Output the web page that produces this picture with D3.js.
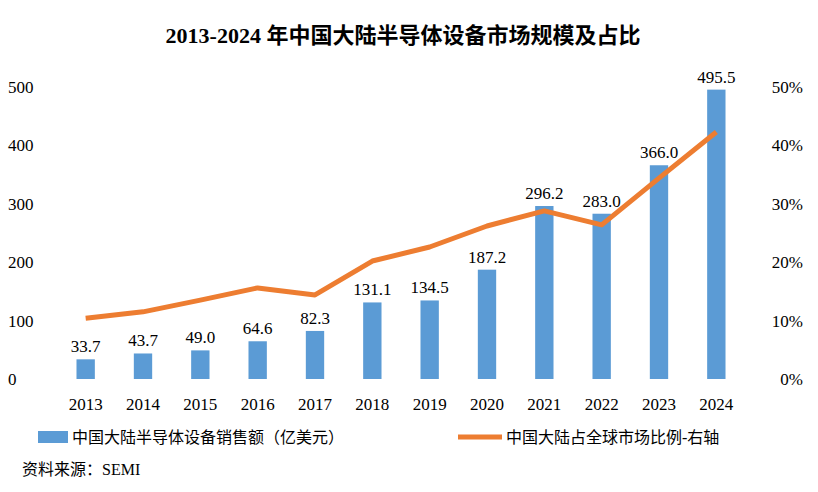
<!DOCTYPE html>
<html>
<head>
<meta charset="utf-8">
<script src="https://cdn.jsdelivr.net/npm/d3@7"></script>
<style>
body{margin:0;background:#fff;}
text{font-family:"Liberation Serif","Times New Roman","Noto Sans CJK SC",serif;fill:#000;}
</style>
</head>
<body>
<script>
var years = ['2013','2014','2015','2016','2017','2018','2019','2020','2021','2022','2023','2024'];
var sales = [33.7, 43.7, 49.0, 64.6, 82.3, 131.1, 134.5, 187.2, 296.2, 283.0, 366.0, 495.5];
var share = [10.4, 11.5, 13.5, 15.6, 14.4, 20.2, 22.6, 26.2, 28.8, 26.4, 34.4, 42.3];
var leftTicks = [0, 100, 200, 300, 400, 500];
var rightTicks = [0, 10, 20, 30, 40, 50];

var W = 818, H = 492;
var svg = d3.select('body').append('svg').attr('width', W).attr('height', H);

var x = d3.scaleBand().domain(years).range([57, 745]).paddingInner(0.68).paddingOuter(0.34);
var yL = d3.scaleLinear().domain([0, 500]).range([379, 87]);
var yR = d3.scaleLinear().domain([0, 50]).range([379, 87]);

svg.append('text').attr('x', 403).attr('y', 43).attr('text-anchor', 'middle')
    .style('font-size', '22px').style('font-weight', 'bold')
    .text('2013-2024 年中国大陆半导体设备市场规模及占比');

svg.selectAll('text.yl').data(leftTicks).enter().append('text')
    .attr('class', 'yl').attr('x', 8).attr('y', function (d) { return yL(d) + 6; })
    .style('font-size', '17px').text(function (d) { return d; });

svg.selectAll('text.yr').data(rightTicks).enter().append('text')
    .attr('class', 'yr').attr('x', 803).attr('y', function (d) { return yR(d) + 6; })
    .attr('text-anchor', 'end').style('font-size', '17px').text(function (d) { return d + '%'; });

svg.selectAll('rect.bar').data(sales).enter().append('rect')
    .attr('x', function (d, i) { return x(years[i]); })
    .attr('y', function (d) { return yL(d); })
    .attr('width', x.bandwidth())
    .attr('height', function (d) { return 379 - yL(d); })
    .attr('fill', '#5b9bd5');

svg.selectAll('text.val').data(sales).enter().append('text')
    .attr('x', function (d, i) { return x(years[i]) + x.bandwidth() / 2; })
    .attr('y', function (d) { return yL(d) - 7; })
    .attr('text-anchor', 'middle').style('font-size', '17px')
    .text(function (d) { return d.toFixed(1); });

var line = d3.line()
    .x(function (d, i) { return x(years[i]) + x.bandwidth() / 2; })
    .y(function (d) { return yR(d); });
svg.append('path').datum(share).attr('d', line)
    .attr('fill', 'none').attr('stroke', '#ed7d31').attr('stroke-width', 5)
    .attr('stroke-linejoin', 'round');

svg.selectAll('text.yr2').data(years).enter().append('text')
    .attr('x', function (d) { return x(d) + x.bandwidth() / 2; })
    .attr('y', 410).attr('text-anchor', 'middle').style('font-size', '17px')
    .text(function (d) { return d; });

svg.append('rect').attr('x', 38).attr('y', 431).attr('width', 30).attr('height', 12).attr('fill', '#5b9bd5');
svg.append('text').attr('x', 72).attr('y', 443).style('font-size', '16px')
    .text('中国大陆半导体设备销售额（亿美元）');
svg.append('line').attr('x1', 458).attr('x2', 502).attr('y1', 437).attr('y2', 437)
    .attr('stroke', '#ed7d31').attr('stroke-width', 5);
svg.append('text').attr('x', 506).attr('y', 443).style('font-size', '16px')
    .text('中国大陆占全球市场比例-右轴');

svg.append('text').attr('x', 22).attr('y', 475).style('font-size', '16px')
    .text('资料来源：SEMI');
</script>
</body>
</html>
